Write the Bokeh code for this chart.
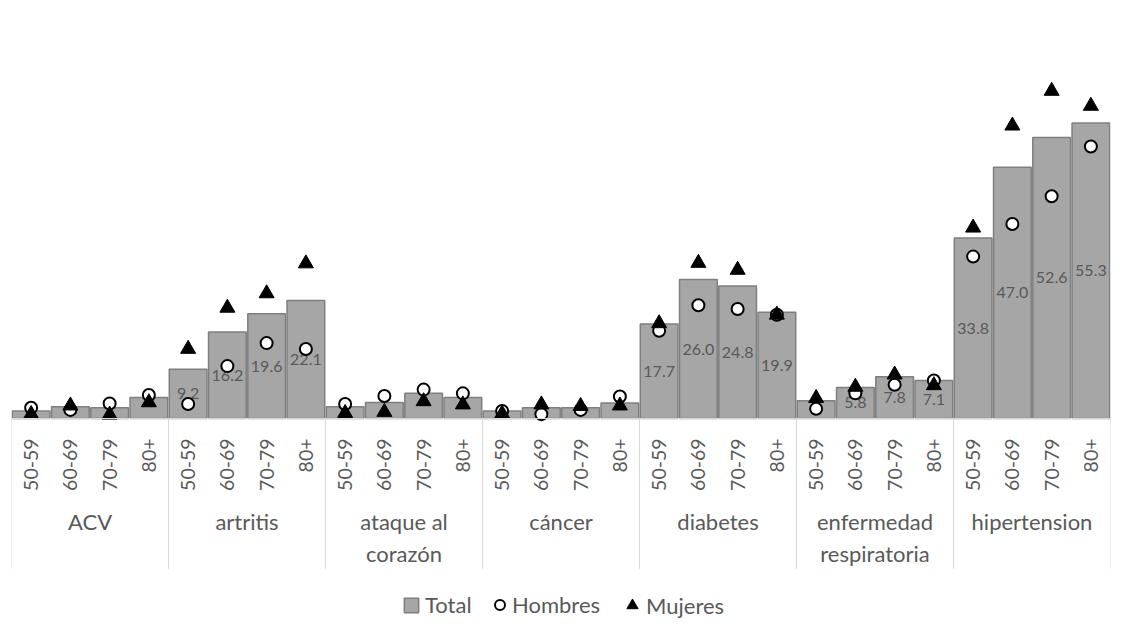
import math
from bokeh.plotting import figure
from bokeh.models import FactorRange, ColumnDataSource, Range1d, Legend, LegendItem
from bokeh.embed import file_html
from bokeh.resources import INLINE
from bokeh.core.properties import value

# ---------------- data ----------------
diseases = ["ACV", "artritis", "ataque al\ncorazón", "cáncer", "diabetes",
            "enfermedad\nrespiratoria", "hipertension"]
ages = ["50-59", "60-69", "70-79", "80+"]

total = [1.4, 2.2, 2.0, 3.9,
         9.2, 16.2, 19.6, 22.1,
         2.2, 3.0, 4.7, 3.9,
         1.4, 2.0, 2.0, 2.9,
         17.7, 26.0, 24.8, 19.9,
         3.3, 5.8, 7.8, 7.1,
         33.8, 47.0, 52.6, 55.3]

hombres = [2.0, 1.6, 2.8, 4.4,
           2.7, 9.8, 14.1, 13.0,
           2.7, 4.2, 5.4, 4.7,
           1.4, 0.8, 1.6, 4.1,
           16.4, 21.2, 20.5, 19.4,
           1.8, 4.7, 6.3, 7.1,
           30.3, 36.4, 41.6, 50.9]

mujeres = [0.8, 2.4, 0.7, 3.0,
           13.0, 20.7, 23.4, 29.0,
           1.0, 1.2, 3.2, 2.6,
           0.9, 2.6, 2.3, 2.4,
           17.8, 29.1, 27.8, 19.4,
           3.8, 5.9, 8.2, 6.2,
           35.7, 54.8, 61.3, 58.5]

# data labels shown on the bars (Excel shows only some of them)
bar_labels = ["", "", "", "",
              "9.2", "16.2", "19.6", "22.1",
              "", "", "", "",
              "", "", "", "",
              "17.7", "26.0", "24.8", "19.9",
              "", "5.8", "7.8", "7.1",
              "33.8", "47.0", "52.6", "55.3"]

# ---------------- figure ----------------
factors = [(d, a) for d in diseases for a in ages]
src = ColumnDataSource(dict(
    x=factors, total=total, hombres=hombres, mujeres=mujeres,
    label=bar_labels, label_y=[t / 2 for t in total]))

TXT = "#595959"
FONT = "Lato"

p = figure(
    x_range=FactorRange(*factors, factor_padding=0, group_padding=0, range_padding=0),
    y_range=Range1d(-39.32, 70),
    width=1117, height=628,
    output_backend="svg", toolbar_location=None,
    min_border_left=11, min_border_right=7, min_border_top=44, min_border_bottom=0,
)
p.outline_line_color = None
p.xgrid.visible = False
p.ygrid.visible = False
p.yaxis.visible = False

ax = p.xaxis[0]
ax.fixed_location = 0
ax.axis_line_color = "#d9d9d9"
ax.axis_line_width = 1
ax.major_tick_line_color = None
ax.minor_tick_line_color = None
ax.major_label_orientation = math.pi / 2
ax.major_label_standoff = 14
ax.major_label_text_font = FONT
ax.major_label_text_font_size = "19.5px"
ax.major_label_text_color = TXT
ax.group_text_font = FONT
ax.group_text_font_size = "22px"
ax.group_text_font_style = "normal"
ax.group_text_color = TXT
ax.group_label_orientation = "horizontal"
if "separator_line_color" in ax.properties():
    ax.separator_line_color = None

# group separators below the axis
bounds = [(d, ages[0], -0.5) for d in diseases] + [(diseases[-1], ages[-1], 0.5)]
p.segment(x0=bounds, x1=bounds, y0=0, y1=-28.14, line_color="#d9d9d9", line_width=1)

bars = p.vbar(x="x", top="total", width=0.96, source=src,
              fill_color="#a6a6a6", line_color="#7f7f7f", line_width=1.5)

p.text(x="x", y="label_y", text="label", source=src,
       text_font=value(FONT), text_font_size="16px", text_color=TXT,
       text_align="center", text_baseline="middle")

circ = p.scatter(x="x", y="hombres", source=src, marker="circle", size=12,
                 fill_color="white", line_color="black", line_width=2)
tri = p.scatter(x="x", y="mujeres", source=src, marker="triangle", size=15,
                fill_color="black", line_color="black", line_width=1)


def add_legend(renderer, label, loc, gsize, standoff):
    leg = Legend(items=[LegendItem(label=label, renderers=[renderer])],
                 location=loc, glyph_width=gsize, glyph_height=gsize,
                 label_standoff=standoff, padding=0, margin=0, spacing=0,
                 border_line_color=None, background_fill_alpha=0,
                 label_text_font=FONT, label_text_font_size="22px",
                 label_text_color=TXT, label_height=gsize)
    p.add_layout(leg)


add_legend(bars, "Total", (391, 10), 18, 5)
add_legend(circ, "Hombres", (476, 10), 25, 0)
add_legend(tri, "Mujeres", (607, 9), 28, 0)

open("out.html", "w").write(file_html(p, INLINE))
